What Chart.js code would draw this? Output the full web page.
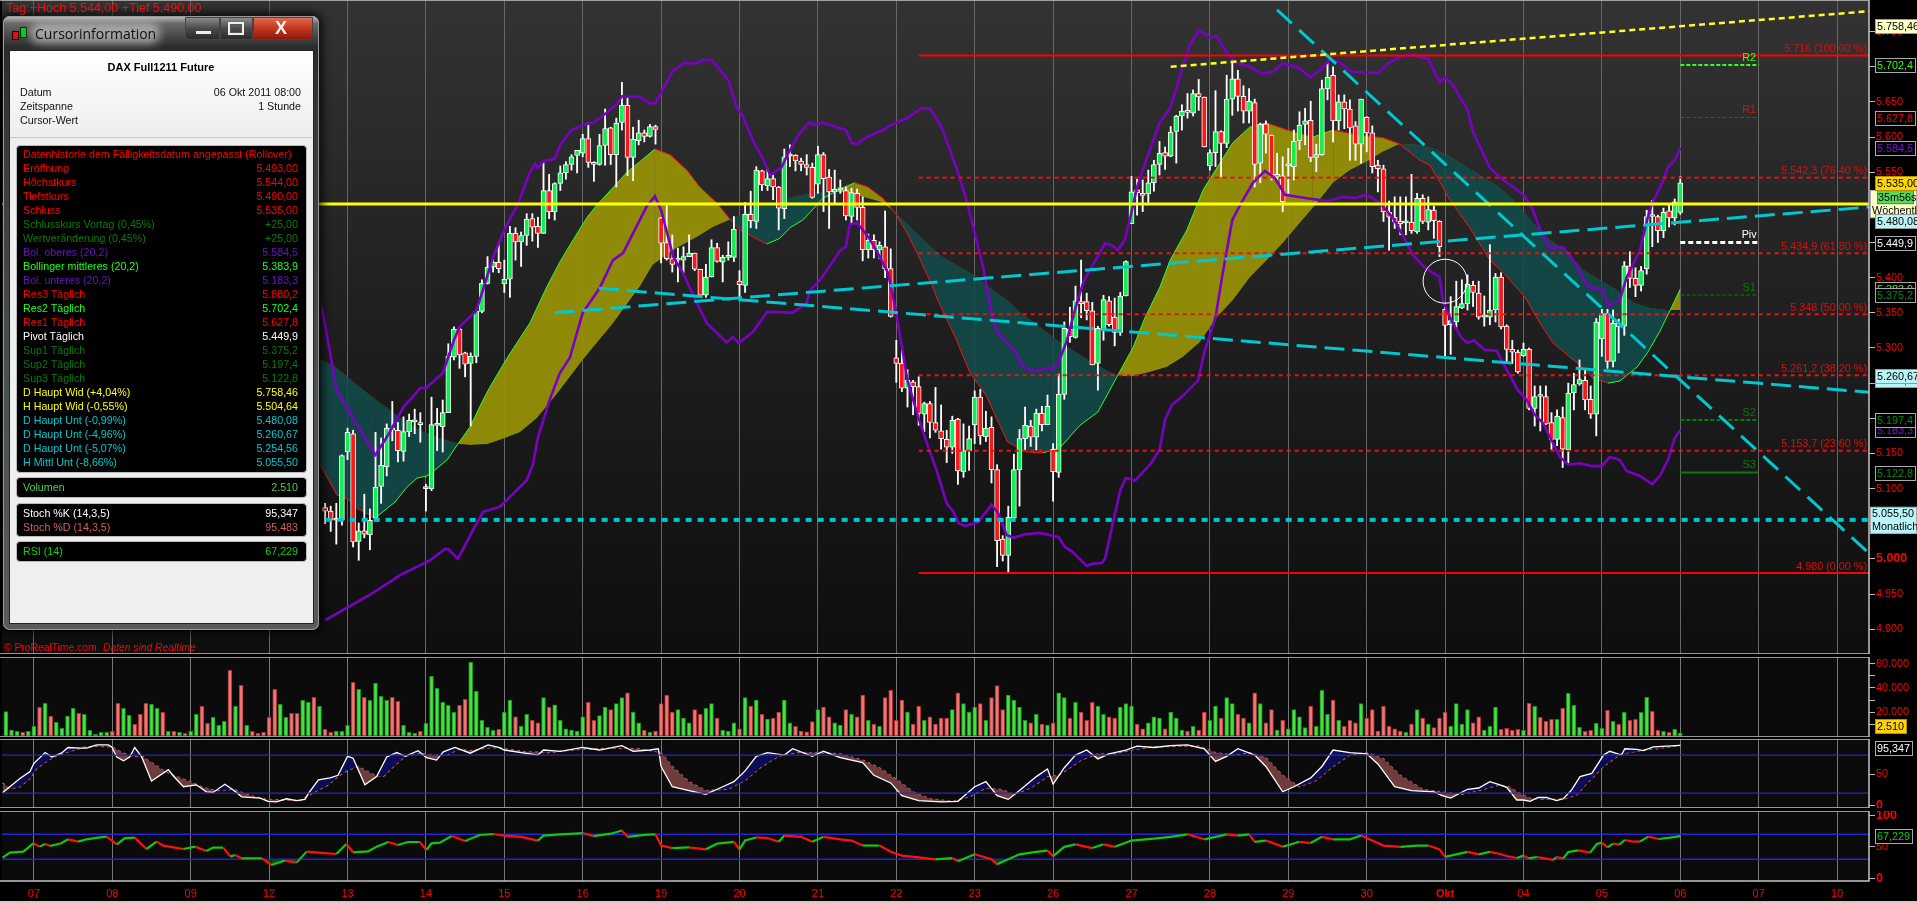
<!DOCTYPE html>
<html>
<head>
<meta charset="utf-8">
<title>DAX Full1211 Future</title>
<script src="https://cdn.jsdelivr.net/npm/chart.js@4/dist/chart.umd.js"></script>
<style>
  html, body { margin: 0; background: #000; width: 1917px; height: 903px; overflow: hidden; }
  body, div, span { font-family: "Liberation Sans", Arial, sans-serif; }
  canvas { position: absolute; left: 0; }
  .abs { position: absolute; white-space: nowrap; }
  #frame {
    left: 3px; top: 16px; width: 316px; height: 614px; border-radius: 7px;
    background: linear-gradient(180deg, #c4c4c4 0, #6a6a6a 1.2%, #2c2c2c 5%, #3a3a3a 20%, #4a524c 60%, #5a5a5a 100%);
    box-shadow: 0 0 10px 3px rgba(0,0,0,.85), inset 0 0 0 1px #999;
  }
  #client {
    left: 9px; top: 50px; width: 303px; height: 572px; border: 1px solid #222;
    background: linear-gradient(180deg, #fff 0, #eee 15%, #efefef 100%);
  }
  .blackbox { background: #000; border: 1px solid #bbb; border-radius: 4px; left: 16px; width: 289px; }
  .row { font-size: 10.7px; line-height: 14px; height: 14px; }
  .winbtn { top: 17px; height: 23px; border: 1px solid #444; box-sizing: border-box; }
</style>
</head>
<body>
<canvas id="mainChart" width="1917" height="654" style="top:0"></canvas>
<canvas id="volChart" width="1917" height="80" style="top:657px"></canvas>
<canvas id="stochChart" width="1917" height="69" style="top:739px"></canvas>
<canvas id="rsiChart" width="1917" height="92" style="top:811px"></canvas>
<div class="abs" style="left:0;top:901px;width:1917px;height:2px;background:#ccc"></div>
<div id="overlay"></div>
<script>
// day labels on the time axis, one session = 14 hourly bars
const dayBars = [0,14,28,42,56,70,84,98,112,126,140,154,168,182,196,210,224,238,252,266,280,294,308,322];
const dayLabels = ["07","08","09","12","13","14","15","16","19","20","21","22","23","26","27","28","29","30","Okt","04","05","06","07","10"];

// hourly candles, first one is bar 52 (everything before sits behind the info window)
const firstCandle = 52;
const opens = [5073,5068,5055,5055,5152,5178,5025,5040,5034,5058,5103,5131,5186,5183,5153,5181,5195,5194,
5100,5100,5190,5188,5208,5287,5327,5293,5278,5288,5352,5392,5415,5422,
5391,5398,5463,5451,5460,5484,5473,5463,5524,5494,5534,5549,5561,5574,
5577,5598,5564,5561,5588,5613,5575,5621,5645,5571,5595,5606,5601,5615,
5485,5450,5427,5425,5425,5430,5435,5412,5375,5401,5443,5422,5429,5429,
5395,5389,5490,5480,5552,5531,5541,5529,5498,5573,5574,5566,5561,5557,
5533,5575,5543,5522,5525,5524,5487,5520,5500,5440,5453,5440,5444,5413,
5286,5278,5243,5252,5245,5206,5221,5194,5182,5170,5159,5199,5124,5154,
5191,5230,5174,5187,5127,5028,5005,5058,5127,5171,5189,5173,5207,5191,
5156,5123,5234,5327,5315,5366,5366,5353,5278,5326,5367,5344,5322,5374,
5477,5525,5520,5519,5535,5561,5578,5573,5608,5630,5638,5634,5662,5657,
5559,5578,5608,5591,5654,5683,5658,5637,5649,5563,5619,5603,5543,5545,
5559,5558,5595,5618,5624,5571,5575,5669,5688,5623,5650,5640,5616,5590,
5628,5606,5560,5555,5493,5486,5480,5478,5479,5465,5513,5479,5496,5480,
5355,5333,5337,5357,5363,5389,5378,5344,5344,5354,5401,5331,5298,5294,
5289,5298,5214,5232,5231,5194,5170,5201,5155,5236,5249,5254,5227,5206,
5313,5349,5281,5335,5331,5417,5399,5389,5413,5488,5487,5467,5495,5485,
5493];
const closes = [5068,5055,5056,5147,5180,5024,5040,5035,5055,5102,5133,5186,5183,5154,5181,5197,5196,5191,
5101,5191,5191,5208,5289,5327,5290,5277,5288,5352,5392,5415,5422,5413,
5398,5463,5451,5460,5483,5472,5463,5524,5494,5534,5549,5561,5572,5581,
5598,5564,5561,5588,5612,5575,5620,5645,5571,5597,5606,5601,5615,5611,
5449,5427,5419,5426,5430,5435,5412,5375,5401,5443,5423,5429,5430,5469,
5390,5490,5481,5553,5532,5541,5529,5499,5572,5574,5566,5561,5557,5514,
5575,5541,5522,5526,5526,5488,5521,5500,5440,5453,5440,5446,5413,5345,
5278,5243,5254,5245,5207,5221,5194,5183,5171,5159,5197,5125,5154,5171,
5230,5175,5186,5127,5026,5005,5059,5127,5171,5190,5173,5207,5191,5217,
5124,5234,5328,5316,5367,5363,5353,5276,5328,5369,5333,5322,5374,5423,
5522,5521,5517,5535,5561,5577,5573,5607,5630,5637,5635,5662,5657,5586,
5578,5608,5591,5654,5683,5658,5637,5651,5561,5618,5604,5546,5547,5508,
5560,5594,5617,5623,5571,5575,5669,5685,5623,5650,5640,5613,5590,5654,
5606,5558,5555,5494,5486,5480,5477,5479,5467,5513,5480,5497,5481,5444,
5332,5339,5359,5363,5391,5379,5344,5347,5354,5401,5330,5298,5294,5266,
5298,5214,5231,5231,5192,5170,5203,5156,5236,5248,5255,5226,5206,5337,
5349,5281,5335,5330,5417,5399,5389,5410,5487,5487,5467,5493,5485,5508,
5535];
const highs = [5079,5075,5079,5148,5186,5183,5051,5092,5071,5180,5172,5192,5224,5194,5202,5206,5213,5208,
5106,5230,5214,5226,5306,5330,5328,5294,5293,5354,5397,5430,5427,5449,
5425,5473,5471,5465,5491,5491,5486,5563,5547,5535,5559,5565,5575,5581,
5604,5620,5565,5604,5640,5614,5627,5678,5657,5614,5624,5610,5618,5617,
5486,5506,5461,5442,5444,5461,5435,5412,5419,5454,5449,5432,5451,5487,
5410,5507,5523,5558,5553,5556,5546,5530,5583,5589,5575,5570,5575,5563,
5587,5578,5554,5553,5539,5529,5527,5526,5515,5462,5461,5451,5495,5441,
5311,5298,5269,5254,5259,5223,5224,5244,5219,5183,5203,5200,5192,5189,
5239,5241,5210,5202,5134,5033,5075,5149,5184,5216,5197,5213,5217,5233,
5164,5263,5337,5358,5388,5425,5378,5365,5331,5375,5373,5371,5379,5424,
5544,5540,5539,5553,5567,5594,5586,5615,5631,5646,5662,5667,5682,5657,
5582,5666,5609,5688,5707,5695,5673,5669,5654,5620,5623,5603,5577,5572,
5584,5610,5636,5641,5651,5590,5681,5705,5700,5660,5660,5653,5622,5654,
5629,5616,5567,5560,5509,5515,5515,5515,5547,5520,5518,5515,5502,5481,
5364,5373,5395,5397,5404,5395,5395,5374,5447,5406,5407,5333,5311,5297,
5307,5300,5246,5246,5246,5208,5212,5216,5250,5264,5283,5271,5246,5342,
5355,5355,5354,5341,5423,5437,5414,5416,5496,5510,5489,5499,5503,5512,
5544];
const lows = [5050,5039,5021,5048,5141,5017,4998,5030,5013,5058,5079,5118,5168,5138,5139,5174,5178,5166,
5068,5097,5154,5152,5208,5283,5271,5259,5189,5279,5350,5391,5408,5407,
5379,5372,5425,5416,5446,5452,5443,5463,5484,5482,5524,5540,5553,5549,
5572,5557,5537,5560,5560,5561,5529,5610,5545,5538,5589,5593,5600,5590,
5421,5425,5408,5394,5407,5430,5410,5372,5372,5401,5422,5394,5425,5423,
5373,5379,5471,5470,5524,5524,5511,5468,5484,5558,5552,5552,5546,5513,
5520,5494,5470,5506,5520,5482,5478,5482,5424,5428,5428,5427,5400,5344,
5251,5238,5216,5205,5190,5181,5172,5180,5156,5137,5150,5106,5116,5126,
5164,5163,5167,5108,4989,4997,4980,5055,5075,5155,5160,5155,5182,5191,
5082,5116,5227,5308,5314,5343,5340,5276,5240,5311,5331,5303,5318,5374,
5477,5489,5494,5507,5523,5546,5554,5572,5563,5610,5627,5630,5638,5586,
5553,5558,5544,5585,5631,5637,5620,5620,5529,5535,5577,5539,5539,5494,
5520,5539,5582,5589,5565,5551,5574,5653,5593,5610,5612,5567,5567,5563,
5579,5549,5522,5480,5439,5470,5461,5461,5463,5463,5477,5468,5456,5430,
5288,5291,5328,5356,5354,5359,5341,5331,5333,5337,5327,5278,5278,5264,
5288,5212,5189,5182,5191,5156,5161,5130,5136,5212,5247,5212,5200,5175,
5288,5271,5273,5293,5318,5386,5373,5381,5405,5444,5450,5457,5472,5475,
5490];

const bbUpperBars = [51.4,52.5,54,57,61,63,66,69,70,73,75,76,79,80,82,84,86.5,88.5,89.5,90,91,93,94,96,98,100,102.5,104,105,107,108,110,111,112,114,116,118.5,119.5,121,124,125.5,126.5,128.5,130,131.5,133.5,134.7,136.5,138.5,139.5,140.7,145,146,147,148.7,151.6,153,156,158.5,160,161.4,162.3,165,166.6,168,169.5,171,172,175,176.7,179,181,182,183,184.4,186,187.4,189.8,191.3,192.5,193.6,194.8,195.7,197,198,199.3,201,202.9,204.6,206.4,208,210,211.2,213,214.8,216.8,219.5,221.3,223,226,228,230,231.4,233,235.3,240,241.8,244,246,249,251,252,253.4,256,257,260,262.4,266,267.7,269,270.7,273,274.9,277.5,280,281.2,283.2,284.4,286.8,288.2,289,291,291.8,293,294];
const bbUpper = [5358,5311,5240,5200,5148,5173,5216,5243,5243,5264,5311,5330,5353,5378,5429,5468,5506,5549,5562,5556,5566,5569,5589,5610,5617,5621,5636,5646,5658,5657,5658,5648,5648,5663,5693,5705,5705,5710,5710,5681,5643,5631,5593,5572,5546,5557,5577,5603,5621,5617,5621,5610,5592,5590,5600,5610,5617,5627,5641,5641,5624,5610,5550,5508,5464,5415,5350,5323,5297,5273,5267,5272,5270,5280,5309,5357,5394,5428,5449,5446,5439,5454,5482,5529,5553,5582,5620,5641,5685,5731,5752,5742,5744,5720,5705,5701,5690,5693,5705,5698,5685,5698,5710,5707,5693,5691,5705,5714,5717,5711,5678,5685,5674,5639,5607,5556,5539,5518,5496,5468,5442,5444,5425,5387,5384,5360,5368,5400,5439,5486,5506,5539,5557,5567,5584.5];
const bbLowerBars = [52,60,65.4,70.7,73.4,74,75.7,78.4,80.2,83.2,88,89.1,90,92.1,93.9,95.7,98,101,103.4,105.2,107.3,109.4,110.9,112,114.2,115.9,118.4,120.2,123.7,124.8,125.9,128.4,130.9,133.2,135.5,138,138.6,140.4,142,144,145,145.7,147,149,150.7,152.5,153.8,154.6,156,157.9,159.7,161.2,163,164.2,165.1,166.3,168.6,171,172.2,173.7,174.9,177,179.6,183,184.1,185.3,188,188.9,190.7,191.3,192.5,194,195,196.6,199.3,201,202,203.2,205.2,207.9,209,211,212.3,214,215.7,217.7,219.8,221.6,223.4,227.3,231,233.8,235.9,238,240.4,242.7,245.2,246.3,248.4,251,251.6,252.5,253.4,255,256,257.1,259.1,261.2,263,265,266.6,268,269.5,272.5,274,276,278.2,280,281.4,283.2,284.4,286.8,289,290.4,291.8,293,294];
const bbLower = [4913,4949,4977,4998,5014,5014,5000,5041,5067,5074,5112,5134,5173,5226,5264,5286,5350,5385,5425,5435,5468,5501,5516,5496,5429,5407,5364,5335,5308,5316,5307,5323,5351,5351,5350,5364,5382,5397,5415,5439,5444,5476,5478,5458,5435,5407,5358,5321,5254,5202,5159,5126,5079,5067,5051,5047,5052,5077,5065,5034,5030,5035,5037,5031,5017,5011,4990,4993,4994,5001,5045,5098,5115,5111,5134,5155,5198,5219,5232,5254,5294,5343,5407,5482,5508,5535,5552,5542,5518,5513,5509,5515,5513,5518,5506,5485,5449,5432,5414,5401,5368,5350,5335,5314,5307,5311,5297,5296,5269,5240,5226,5205,5193,5145,5134,5136,5132,5132,5145,5141,5125,5118,5106,5119,5141,5172,5183.3];

// cloud: thin line coloured by its slope, and the unlined line it is filled against
const cloudLineBars = [51.1,54.1,56.1,57.7,60.9,64.5,66.6,68.4,70.2,72,73.8,75.5,77.9,80.2,81.4,84.6,88.6,91.6,93.9,96.3,98.8,100.5,103.4,105.9,108.2,110.9,113.6,116.6,118.9,122,124.3,126.1,128.4,130.9,133.2,135,137.3,138.6,140.9,144.5,146.6,148.9,151.6,153.8,155.9,157.9,160.5,161.4,164.5,167.1,170.2,172,173.9,177.3,180.2,183.2,186.8,190,193.4,196.3,198.4,201.1,202.9,205.9,208.8,211.8,214.1,217.1,220.2,223.8,228.4,232,236.3,240.9,243.9,247.5,249.3,251.6,252.9,256.4,260,262.3,266.3,268.9,271.3,275.5,278.4,281.1,283.2,286.3,288.2,290.3,292.4,294];
const cloudLine = [5134,5091,5085,5072,5058,5081,5102,5115,5118,5129,5141,5161,5188,5226,5244,5287,5336,5387,5422,5454,5486,5503,5528,5550,5565,5583,5575,5553,5529,5506,5483,5468,5458,5448,5456,5471,5482,5493,5513,5528,5535,5529,5513,5492,5464,5432,5387,5368,5316,5266,5230,5198,5166,5152,5151,5158,5190,5209,5259,5301,5343,5387,5425,5468,5525,5563,5592,5614,5620,5610,5600,5610,5603,5599,5590,5567,5560,5529,5510,5471,5425,5408,5372,5336,5307,5279,5257,5250,5253,5273,5294,5323,5357,5383.9];
const cloudBaseBars = [51.1,54.1,57,60,63,65.9,68.9,72,74.8,76.1,77.9,80.9,83.8,86.8,89.8,92.1,93.9,98,100.5,103.4,106.4,108.2,110.5,114.1,118.4,121.3,124.5,127,129.6,132,135.5,140.4,144.5,148.9,151.1,153.4,156.4,159.5,162.3,165.4,168.4,171.3,173.8,176.1,179.6,183.2,186.3,189.1,192.1,193.8,196.3,199.3,202.3,205.2,208.2,211.3,214.1,217.1,220.2,223,226.1,229.1,232,235,238,240.9,243.9,247,249.8,252.9,255.9,258.8,261.8,264.8,267.7,270.7,273.8,276.6,279.6,282.7,285.5,288.6,291.6,294];
const cloudBase = [5284,5272,5252,5233,5215,5198,5183,5173,5166,5163,5162,5163,5171,5180,5200,5222,5240,5283,5307,5335,5368,5387,5418,5439,5458,5472,5483,5492,5501,5503,5515,5522,5522,5513,5508,5496,5472,5449,5429,5415,5401,5382,5368,5351,5330,5308,5293,5279,5266,5260,5260,5266,5273,5287,5308,5344,5368,5400,5425,5449,5478,5506,5535,5553,5565,5579,5590,5589,5584,5572,5557,5543,5528,5506,5478,5454,5437,5411,5397,5382,5365,5357,5354,5354];

// drawn levels and trend lines
const fibValues = [5716,5542.3,5434.9,5348,5261.2,5153.7,4980];
const fibTexts = ["5.716 (100,00 %)","5.542,3 (76,40 %)","5.434,9 (61,80 %)","5.348 (50,00 %)","5.261,2 (38,20 %)","5.153,7 (23,60 %)","4.980 (0,00 %)"];
const pivotValues = [5702.4,5627.8,5449.9,5375.2,5197.4,5122.8];
const pivotNames = ["R2","R1","Piv","S1","S2","S3"];
const weeklyResistance = 5504.64;
const monthlySupport = 5055.5;
const trendResistBars = [203,327.7], trendResist = [5700,5779];
const trendRiseBars = [93,327.7], trendRise = [5350,5500.5];
const trendFallBars = [100.9,327.7], trendFall = [5385,5237];
const trendSteepBars = [222,327.7], trendSteep = [5781,5008];
const circleBar = [252], circleValue = [5395];

// volume, bar -5 up to bar 294
const firstVolume = -5;
const volumes = [20300,5000,3900,3000,3900,8000,23900,27200,16700,11400,6400,16700,23000,18900,18000,4700,1400,3000,3000,3900,
27200,23000,17200,9700,18000,27200,26400,23000,19700,3900,3900,3000,2200,3900,18000,24700,10600,15600,8900,12200,54700,24700,42200,8900,3900,2200,3000,
15600,38900,26400,15600,18900,18900,29700,28000,32200,24700,5600,3000,3900,3900,8900,44700,38900,32200,29700,43900,33100,29700,32200,28900,8900,3000,2200,3900,
10600,49700,39700,28000,25600,19700,25600,30600,61400,37200,13100,7200,4700,5600,
20000,30000,16000,8000,18000,13000,11000,32000,24000,26000,13000,6000,5000,4000,
16000,28000,13000,17000,24000,22000,27000,32000,36000,20000,11000,5000,3000,4000,
27000,34000,20000,22000,15000,11000,22000,18000,23000,27000,15000,5000,4000,11000,
6000,32000,25000,30000,18000,14000,15000,20000,30000,11000,8000,4000,3500,12000,
22000,24000,16000,11000,9000,22000,18000,16000,34000,13000,10000,8000,32000,38000,
13000,30000,20000,10000,25000,13000,16000,10000,15000,15000,22000,36000,27000,20000,
24000,27000,13000,32000,42000,22000,34000,30000,24000,13000,11000,18000,10000,9000,
11000,36000,32000,15000,28000,20000,13000,28000,25000,18000,16000,15000,24000,27000,
25000,10000,6000,11000,16000,15000,6000,20000,15000,5000,4000,8000,5000,20000,
13000,25000,15000,32000,27000,18000,15000,11000,36000,27000,11000,22000,5000,13000,
6000,22000,16000,7000,25000,8000,38000,18000,30000,13000,8000,13000,11000,27000,
15000,22000,4000,25000,8000,6000,4000,3000,10000,22000,15000,10000,7000,15000,
20000,8000,27000,10000,22000,11000,16000,5000,8000,24000,
5600,6400,4700,5600,4700,27200,24700,15600,12200,13900,13900,23000,35600,25600,7200,3900,4700,10600,6400,21400,12200,9700,19700,13100,13900,19700,32200,20600,4700,3900,3000,5600,2510];
// up/down flag of the volume bars that have no visible candle (bars -5 to 51)
const earlyVolumeUp = [1,1,1,0,1,1,0,1,0,1,1,1,1,0,1,1,1,1,1,0,0,1,1,0,0,0,1,1,0,1,0,1,0,1,1,0,0,1,1,1,0,1,0,1,0,0,0,0,0,1,1,0,0,1,1,0,1];

// stochastic %K / %D
const stochKBars = [-5.6,-2.5,-0.7,0,2,3.2,4.9,6.1,8.2,9.4,11.2,13.3,13.9,14.8,16,17.1,18,19.2,21,24,24.9,26.7,29,30.8,32,34.1,35.6,37.1,40.4,41.8,43.3,45.1,46.9,48.4,49,50.8,52.9,54.3,56,57,59.1,61.2,63,64.8,66.3,68.6,70.1,71.9,73.1,75.2,77.9,81.1,83,
84,87,90,91,94,98,101,105,107,110,111.5,112,114,117,120,123,125,127,129,131,134,135.5,139,141,144,148,150,153,155,158,162,165,168,170,172,174,176,179,181,182,184,186,188,190,192,195,197,200,203,206,209,211,213,215,218,220,223,225,228,230,232,235,238,240,243,246,250,251.5,253,256,258,260,
261.8,263,264.8,266,267.2,268.6,270.1,271.9,273.1,274.6,276.1,278.2,280.3,281.4,283.5,284.1,286.2,287.4,289.2,294];
const stochK = [20.5,43,54,67,84,77,83,92,91,91,96,96,93,77,71,77,92,78,39,57,47,30,33,22,21,34,25,14,12,7,6,11,8,10,19,41,44,48,78,75,33,46,77,84,78,87,76,72,85,92,83,96,92,
88,84,80,88,86,92,88,95,86,88,90,62,30,24,18,30,38,55,78,84,80,90,78,86,76,68,48,36,16,8,6,7,30,38,16,10,24,46,58,34,60,80,88,74,82,88,94,92,95,96,90,70,78,90,80,62,22,30,44,62,88,84,82,66,30,24,22,16,12,26,28,38,
33,29,9,9,7,13,13,8,11,25,46,51,80,86,80,90,89,87,93,95.35];
const stochDBars = [-5.6,-4.3,-2.5,-0.7,0.5,2.6,4.3,6.1,8.8,11.2,13.9,16,17.7,19.5,23.1,25.2,27.9,30.2,32.6,35.6,38.3,41.5,45.1,47.5,50.2,52.6,54.3,56,57.9,60.9,62.4,64.5,66.3,68.9,71.3,73.7,75.8,77.9,80.8,83,
84,88,92,96,100,104,108,112,114,117,120,124,127,130,133,136,140,144,148,151,154,157,160,164,167,170,173,175,178,181,183,185,187,190,193,196,200,204,208,211,214,217,220,223,226,229,232,235,238,241,244,248,252,255,258,
261.8,263.6,265.4,267.2,269.5,271.9,273.4,275.5,277.3,279.1,280.3,282.3,283.5,285.6,287.4,289.8,294];
const stochD = [36,27,30,43,59,72,80,85,92,94,93,83,78,77,56,47,38,29,24,26,17,10,9,8,22,33,46,56,62,48,46,64,78,83,80,80,89,87,91,92,
90,85,84,88,90,91,90,84,62,38,24,26,40,62,78,84,84,82,72,60,42,22,11,7,14,28,25,18,28,46,48,60,72,82,82,88,93,94,94,84,80,84,76,48,30,40,62,80,84,74,48,26,21,18,24,
33,29,19,12,10,10,11,17,35,51,62,75,82,85,88,90,95.48];

// RSI
const rsiBars = [-5.6,-4.3,-1.9,-0.1,1,2,2.9,4.9,6.1,7.9,9.4,11.8,13,14.8,16.2,18,20.1,21.9,23.1,24.9,26.7,28.8,30.8,32,33.8,35.1,35.9,37.1,40.7,42.4,43.3,44.8,46.9,48.7,50.8,54,55.8,57,59.7,61.2,63.3,65,66.8,68.9,70.1,71,72.5,74.6,77,79.6,82,83,
84,87,90,91,94,98,100,103,105,106,109,111,112,114,117,120,122,125,126,127,129,131,133,134,137,139,141,144,146,148,151,153,155,158,161,164,165,168,171,172,174,176,179,181,182,184,186,189,191,193,196,200,203,206,209,211,213,215,217,218,220,223,226,228,230,232,235,237,239,241,244,247,249,251,252,254,256,258,260,
261.8,263,264.8,266,266.9,268.4,270.1,271.3,271.9,273.1,274,275.8,277.9,279.1,280,281,282,283.1,284.1,285.3,286.8,288.3,290.1,292.2,294];
const rsiValues = [32.7,40.7,42.3,55.6,50.3,54.5,51.3,55.6,62,58.3,62,65.2,66.3,54,63.6,64.7,46.5,58.3,51.9,49.2,46.5,50.3,43.3,48.7,48.7,34.3,36.9,31.6,31.6,20.9,23.6,27.9,24.7,42.3,40.7,38.5,54.5,41.2,42.8,50.3,57.7,52.9,57.7,57.7,44.9,55.6,56.7,67.3,59.3,68.9,70.5,68.9,
68,66,60,68,70,72,67,71,76,66,69,70,52,48,49,46,55,58,46,60,65,64,58,68,66,58,66,62,60,52,52,42,36,33,30,32,27,38,30,22,30,38,42,44,35,50,54,48,54,50,60,63,66,70,62,66,70,68,70,58,60,50,58,56,66,62,62,68,60,52,50,52,52,46,34,38,42,38,42,
38.5,35.3,32.1,35.9,31.6,33.7,31.1,28.9,33.7,31.6,41.7,44.4,40.7,54.5,56.7,49.2,55.1,53.5,60.9,58.8,58.3,66.3,62.5,64.7,67.23];

// axis ticks
const mainTicks = [4900,4950,5000,5050,5100,5150,5200,5250,5300,5350,5400,5450,5500,5550,5600,5650,5700,5750];
const volTicks = [10000,20000,30000,40000,50000,60000];
const volLabelled = [20000,40000,60000];
const stochTicks = [0,50];
const stochLevels = [80,20];
const rsiTicks = [0,50,100];
const rsiLevels = [70,30];
const boldTicks = [5000,0,100];

// value boxes on the right hand axis, later ones cover earlier ones
const flagValues = [5758.46,5702.4,5627.8,5584.5,5504.64,5480.08,5535,5449.9,5383.9,5375.2,5254.56,5260.67,5183.3,5197.4,5122.8,5055.5];
const flagTexts = ["5.758,46","5.702,4","5.627,8","5.584,5","35m56s","5.480,08","5.535,00","5.449,9","5.383,9","5.375,2","5.254,56","5.260,67","5.183,3","5.197,4","5.122,8","5.055,50"];
const flagKinds = ["paleYellow","green","red","purple","weekly","paleCyan","gold","white","green","darkGreen","paleCyan","paleCyan","purple","darkGreen","darkGreen","monthly"];

// info window
const infoLabels = ["Datenhistorie dem Fälligkeitsdatum angepasst (Rollover)","Eröffnung","Höchstkurs","Tiefstkurs","Schluss","Schlusskurs Vortag (0,45%)","Wertveränderung (0,45%)","Bol. oberes (20,2)","Bollinger mittleres (20,2)","Bol. unteres (20,2)","Res3 Täglich","Res2 Täglich","Res1 Täglich","Pivot Täglich","Sup1 Täglich","Sup2 Täglich","Sup3 Täglich","D Haupt Wid (+4,04%)","H Haupt Wid (-0,55%)","D Haupt Unt (-0,99%)","D Haupt Unt (-4,96%)","D Haupt Unt (-5,07%)","H Mittl Unt (-8,66%)"];
const infoValues = ["","5.493,00","5.544,00","5.490,00","5.535,00","+25,00","+25,00","5.584,5","5.383,9","5.183,3","5.880,2","5.702,4","5.627,8","5.449,9","5.375,2","5.197,4","5.122,8","5.758,46","5.504,64","5.480,08","5.260,67","5.254,56","5.055,50"];
const infoColors = ["#f00","#f00","#f00","#f00","#f00","#0a7a0a","#0a7a0a","#6a10c0","#20ff20","#6a10c0","#f00","#20ff20","#f00","#fff","#0a7a0a","#0a7a0a","#0a7a0a","#ff0","#ff0","#00c8d0","#00c8d0","#00c8d0","#00c8d0"];

Chart.defaults.font.family = '"Liberation Sans", Arial, sans-serif';
Chart.defaults.font.size = 11;
Chart.defaults.animation = false;

const RED = "#ff1515", GREEN = "#0cf050", CYAN = "#00c8d0", PURPLE = "#7a00c4", DARKGREEN = "#0a7a0a", BRIGHT = "#30ff20";
const xMin = -5.7, xMax = 327.7;

function xy(bars, values) {
  return bars.map((b, i) => ({ x: b, y: values[i] }));
}
function line(data, color, width, dash, order) {
  return { type: "line", data, borderColor: color, borderWidth: width, borderDash: dash || [], pointRadius: 0, tension: 0, order };
}
function level(value, from, to, color, width, dash, order) {
  return line(xy([from, to], [value, value]), color, width, dash, order);
}
const germanNumber = v => String(v).replace(/(\d)(\d{3})$/, "$1.$2");

function xScale(gridColor, withLabels) {
  return {
    type: "linear", min: xMin, max: xMax, offset: false,
    grid: { color: gridColor, lineWidth: 1, drawTicks: false, offset: false },
    border: { display: false },
    afterBuildTicks: s => { s.ticks = dayBars.map(v => ({ value: v })); },
    afterFit: s => { s.height = withLabels ? 22 : 0; s.paddingLeft = 0; s.paddingRight = 0; },
    ticks: {
      display: withLabels, autoSkip: false, maxRotation: 0, color: "#f00", padding: 6,
      callback: v => dayLabels[dayBars.indexOf(v)],
      font: c => ({ size: 11, weight: c.tick && c.tick.value === 252 ? "bold" : "normal" })
    }
  };
}
function yScale(min, max, tickValues, labelFn) {
  return {
    position: "right", min, max,
    grid: { drawOnChartArea: false, drawTicks: true, tickLength: 6, tickColor: "#bbb" },
    border: { display: false },
    afterBuildTicks: s => { s.ticks = tickValues.map(v => ({ value: v })); },
    afterFit: s => { s.width = 48; s.paddingTop = 0; s.paddingBottom = 0; },
    ticks: {
      autoSkip: false, color: "#f00", padding: 1, callback: labelFn,
      font: c => boldTicks.includes(c.tick && c.tick.value) ? { size: 12.5, weight: "bold" } : { size: 10.8 }
    }
  };
}

function roundBox(ctx, x, y, w, h, bg, border) {
  ctx.fillStyle = bg;
  ctx.fillRect(x, y, w, h);
  ctx.strokeStyle = border;
  ctx.lineWidth = 1;
  ctx.strokeRect(x + 0.5, y + 0.5, w - 1, h - 1);
}
const flagStyles = {
  paleYellow: { bg: "#ffffc8", fg: "#000", border: "#999" },
  paleCyan: { bg: "#b8f4f8", fg: "#000", border: "#999" },
  gold: { bg: "#ffd400", fg: "#000", border: "#b09000" },
  green: { bg: "#000", fg: "#30ff20", border: "#aaa" },
  darkGreen: { bg: "#000", fg: "#0a8a0a", border: "#aaa" },
  red: { bg: "#000", fg: "#f00", border: "#aaa" },
  purple: { bg: "#000", fg: "#7a10e0", border: "#aaa" },
  white: { bg: "#000", fg: "#fff", border: "#aaa" },
  rsi: { bg: "#000", fg: "#18c818", border: "#aaa" }
};
function drawFlag(ctx, y, text, kind, rightLimit) {
  const st = flagStyles[kind];
  const w = Math.min(ctx.measureText(text).width + 5, rightLimit || 60);
  roundBox(ctx, 1875, Math.round(y - 7), w, 15, st.bg, st.border);
  ctx.fillStyle = st.fg;
  ctx.textAlign = "left";
  ctx.textBaseline = "middle";
  ctx.fillText(text, 1877, Math.round(y) + 1);
}

// background and outer line of each panel
const panelFrame = {
  id: "panelFrame",
  beforeDraw(chart, args, opts) {
    const { ctx, chartArea: a } = chart;
    let fill = "#0b0b0b";
    if (opts.gradient) {
      fill = ctx.createLinearGradient(0, a.top, 0, a.bottom);
      fill.addColorStop(0, "#333333");
      fill.addColorStop(0.5, "#1f1f1f");
      fill.addColorStop(1, "#0e0e0e");
    }
    ctx.fillStyle = fill;
    ctx.fillRect(a.left, a.top, a.right - a.left, a.bottom - a.top);
  },
  afterDraw(chart) {
    const { ctx, chartArea: a } = chart;
    ctx.strokeStyle = "#c4c4c4";
    ctx.lineWidth = 1.5;
    ctx.strokeRect(a.left - 3, a.top, a.right - a.left + 3, a.bottom - a.top);
  }
};

// fibonacci / pivot captions and the boxes on the axis of the price panel
const priceLabels = {
  id: "priceLabels",
  afterDraw(chart) {
    const { ctx, scales: { x, y } } = chart;
    ctx.save();
    ctx.font = '10.8px "Liberation Sans", Arial, sans-serif';
    ctx.textBaseline = "bottom";
    ctx.textAlign = "right";
    ctx.fillStyle = "#d81010";
    fibValues.forEach((v, i) => ctx.fillText(fibTexts[i], x.right - 2, y.getPixelForValue(v) - 1));
    ctx.textAlign = "center";
    const nameColors = [BRIGHT, "#e01010", "#fff", DARKGREEN, DARKGREEN, DARKGREEN];
    pivotValues.forEach((v, i) => {
      ctx.fillStyle = nameColors[i];
      ctx.fillText(pivotNames[i], x.getPixelForValue(306.3), y.getPixelForValue(v) - 2);
    });
    flagValues.forEach((v, i) => {
      const py = y.getPixelForValue(v), kind = flagKinds[i];
      if (kind === "weekly") {
        roundBox(ctx, 1870, py - 14, 47, 28, "#ffffc8", "#aaa");
        roundBox(ctx, 1877, py - 14, 37, 14, "#58d858", "#3a9a3a");
        ctx.fillStyle = "#000";
        ctx.textAlign = "left";
        ctx.textBaseline = "middle";
        ctx.fillText(flagTexts[i], 1878, py - 6);
        ctx.fillText("Wöchentlich", 1872, py + 7);
      } else if (kind === "monthly") {
        roundBox(ctx, 1870, py - 13, 47, 27, "#b8f4f8", "#aaa");
        ctx.fillStyle = "#000";
        ctx.textAlign = "left";
        ctx.textBaseline = "middle";
        ctx.fillText(flagTexts[i], 1872, py - 6);
        ctx.fillText("Monatlich", 1872, py + 7);
      } else {
        drawFlag(ctx, py, flagTexts[i], kind);
      }
    });
    ctx.restore();
  }
};
function sideFlag(id, value, text, kind) {
  return {
    id,
    afterDraw(chart) {
      const { ctx, chartArea: a, scales: { y } } = chart;
      ctx.save();
      ctx.font = '10.8px "Liberation Sans", Arial, sans-serif';
      const py = Math.min(Math.max(y.getPixelForValue(value), a.top + 9), a.bottom - 11);
      drawFlag(ctx, py, text, kind);
      ctx.restore();
    }
  };
}
const baseOptions = (x, y, gradient) => ({
  responsive: false, events: [],
  layout: { padding: { left: 2, right: 0, top: 0, bottom: 0 }, autoPadding: false },
  plugins: { legend: { display: false }, tooltip: { enabled: false }, panelFrame: { gradient } },
  scales: { x, y }
});
const slopeColor = (up, down) => c => c.p1.parsed.y >= c.p0.parsed.y ? up : down;

// price panel
const candleBars = opens.map((_, i) => firstCandle + i);
const isUp = opens.map((o, i) => closes[i] >= o);
const priceSets = [];
priceSets.push(Object.assign(line(xy(cloudLineBars, cloudLine), BRIGHT, 1, null, 90), {
  segment: { borderColor: slopeColor(BRIGHT, "#ff1010") },
  fill: { target: "+1", above: "rgba(150,145,6,0.94)", below: "rgba(18,76,74,0.86)" }
}));
priceSets.push(line(xy(cloudBaseBars, cloudBase), "rgba(0,0,0,0)", 0, null, 91));
priceSets.push({ type: "bar", grouped: false, order: 70, barThickness: 1.2, backgroundColor: "#fff",
  data: candleBars.map((b, i) => ({ x: b, y: [lows[i], highs[i]] })) });
priceSets.push({ type: "bar", grouped: false, order: 60, barThickness: 5, minBarLength: 2,
  borderWidth: 1, borderColor: "#fff", borderSkipped: false,
  backgroundColor: isUp.map(u => u ? GREEN : RED),
  data: candleBars.map((b, i) => ({ x: b, y: [opens[i], closes[i]] })) });
priceSets.push(line(xy(bbUpperBars, bbUpper), PURPLE, 2.6, null, 30));
priceSets.push(line(xy(bbLowerBars, bbLower), PURPLE, 2.6, null, 30));
fibValues.forEach(v => {
  const solid = v === 5716 || v === 4980;
  priceSets.push(level(v, 158, xMax, solid ? "#ff0000" : "#f01010", 2, solid ? [] : [4, 4], 20));
});
const pivotStyles = [[BRIGHT, 2, [4, 2]], ["#e01010", 1, [4, 2]], ["#fff", 3, [5, 3]], [DARKGREEN, 1, [4, 2]], [DARKGREEN, 2, [4, 2]], [DARKGREEN, 2, []]];
pivotValues.forEach((v, i) => priceSets.push(level(v, 294, 308, pivotStyles[i][0], pivotStyles[i][1], pivotStyles[i][2], 15)));
priceSets.push(line(xy(trendRiseBars, trendRise), CYAN, 3, [20, 8], 10));
priceSets.push(line(xy(trendFallBars, trendFall), CYAN, 3, [20, 8], 10));
priceSets.push(line(xy(trendSteepBars, trendSteep), CYAN, 3, [20, 10], 10));
priceSets.push(level(monthlySupport, 52.1, xMax, CYAN, 4, [6, 6], 10));
priceSets.push(line(xy(trendResistBars, trendResist), "#ffff20", 2.5, [6, 4], 8));
priceSets.push(level(weeklyResistance, xMin, xMax, "#ffff00", 3, [], 5));
priceSets.push({ type: "scatter", order: 1, data: xy(circleBar, circleValue), pointRadius: 22, pointBorderColor: "#fff",
  pointBorderWidth: 1, pointBackgroundColor: "rgba(0,0,0,0)" });

new Chart(document.getElementById("mainChart"), {
  type: "bar",
  data: { datasets: priceSets },
  options: baseOptions(xScale("#666", false), yScale(4864.7, 5795, mainTicks, v => germanNumber(v)), true),
  plugins: [panelFrame, priceLabels]
});

// volume panel
const volBars = volumes.map((_, i) => firstVolume + i);
const volUp = volBars.map((b, i) => b < firstCandle ? earlyVolumeUp[i] === 1 : isUp[b - firstCandle]);
new Chart(document.getElementById("volChart"), {
  type: "bar",
  data: { datasets: [{ grouped: false, barThickness: 4, borderWidth: 1, borderSkipped: false,
    backgroundColor: volUp.map(u => u ? "#44e044" : "#f07575"),
    borderColor: volUp.map(u => u ? "#1c8c1c" : "#a83030"),
    data: xy(volBars, volumes) }] },
  options: baseOptions(xScale("#777", false), yScale(-833, 65833, volTicks, v => volLabelled.includes(v) ? germanNumber(v) : ""), false),
  plugins: [panelFrame, sideFlag("volFlag", 2510, "2.510", "gold")]
});

// stochastic panel
new Chart(document.getElementById("stochChart"), {
  type: "line",
  data: { datasets: [
    Object.assign(line(xy(stochKBars, stochK), "#fff", 1.3, null, 2), { fill: { target: "+1", above: "#0c0c55", below: "#6e3c3a" } }),
    line(xy(stochDBars, stochD), "#e86a6a", 1.3, [3, 3], 3),
    ...stochLevels.map(v => level(v, xMin, xMax, "#2a2ab8", 1.3, [], 1))
  ] },
  options: baseOptions(xScale("#777", false), yScale(-3.6, 105.4, stochTicks, v => String(v)), false),
  plugins: [panelFrame, sideFlag("stochFlag", 95.347, "95,347", "white")]
});

// RSI panel, also carries the date labels
new Chart(document.getElementById("rsiChart"), {
  type: "line",
  data: { datasets: [
    Object.assign(line(xy(rsiBars, rsiValues), "#10c810", 2.2, null, 1), {
      segment: { borderColor: slopeColor("#10c810", "#ff1010") },
      fill: { target: { value: 30 }, above: "rgba(0,0,0,0)", below: "#0a4a14" }
    }),
    ...rsiLevels.map(v => level(v, xMin, xMax, "#2424d8", 1.4, [], 2))
  ] },
  options: baseOptions(xScale("#777", true), yScale(-4.7, 107.3, rsiTicks, v => String(v)), false),
  plugins: [panelFrame, sideFlag("rsiFlag", 67.229, "67,229", "rsi")]
});

// info window and captions as plain page text
const overlay = document.getElementById("overlay");
function put(cls, style, text) {
  const el = document.createElement("div");
  el.className = "abs " + cls;
  el.style.cssText = style;
  if (text !== undefined) el.textContent = text;
  overlay.appendChild(el);
  return el;
}
put("", "", undefined).id = "frame";
put("", "left:6px;top:1px;font-size:12.5px;color:#f01010", "Tag:+Hoch 5.544,00 +Tief 5.490,00");
put("", "left:4px;top:642px;font-size:10.3px;color:#f00", "© ProRealTime.com");
put("", "left:103px;top:642px;font-size:10.3px;color:#f00;font-style:italic", "Daten sind Realtime");
put("", "left:30px;top:22px;width:130px;height:22px;border-radius:10px;background:rgba(190,190,190,.75);filter:blur(4px)");
put("", "left:12px;top:31px;width:5px;height:7px;background:#e01010;border:1px solid #300");
put("", "left:20px;top:27px;width:5px;height:9px;background:#10c030;border:1px solid #030");
put("", "left:35px;top:24px;font:14px 'Open Sans',sans-serif;color:#101010", "Cursorinformation");
put("winbtn", "left:185px;width:35px;background:linear-gradient(#8a8a8a,#4a4a4a 50%,#2a2a2a);border-radius:0 0 0 4px");
put("", "left:196px;top:31px;width:15px;height:3px;background:#eee");
put("winbtn", "left:220px;width:33px;background:linear-gradient(#8a8a8a,#4a4a4a 50%,#2a2a2a)");
put("", "left:228px;top:22px;width:12px;height:9px;border:2px solid #eee;box-shadow:inset 0 0 0 1px #555");
put("winbtn", "left:253px;width:60px;background:linear-gradient(#e06a50,#c83a20 45%,#901808);border-radius:0 0 4px 0");
put("", "left:275px;top:18px;font:bold 18px 'Liberation Sans';color:#f4f4f4", "X");
put("", "", undefined).id = "client";
put("", "left:10px;top:137px;width:302px;height:1px;background:#c8c8c8");
put("", "left:10px;width:302px;top:61px;text-align:center;font:bold 11px 'Liberation Sans';color:#000", "DAX Full1211 Future");
const headLabels = ["Datum","Zeitspanne","Cursor-Wert"], headValues = ["06 Okt 2011 08:00","1 Stunde",""];
headLabels.forEach((t, i) => {
  put("row", `left:20px;top:${85 + i * 14}px;color:#111`, t);
  put("row", `right:${1917 - 301}px;top:${85 + i * 14}px;color:#111`, headValues[i]);
});
put("blackbox", "position:absolute;top:145px;height:326px");
infoLabels.forEach((t, i) => {
  const top = 147 + i * 14;
  put("row", `left:23px;top:${top}px;color:${infoColors[i]}`, t);
  put("row", `right:${1917 - 298}px;top:${top}px;color:${infoColors[i]}`, infoValues[i]);
});
function infoBox(top, height, labels, values, colors) {
  put("blackbox", `position:absolute;top:${top}px;height:${height}px`);
  labels.forEach((t, i) => {
    const y = top + 3 + i * 14;
    put("row", `left:23px;top:${y}px;color:${colors[i]}`, t);
    put("row", `right:${1917 - 298}px;top:${y}px;color:${colors[i]}`, values[i]);
  });
}
infoBox(477, 19, ["Volumen"], ["2.510"], ["#50c850"]);
infoBox(503, 32, ["Stoch %K (14,3,5)", "Stoch %D (14,3,5)"], ["95,347", "95,483"], ["#fff", "#d06060"]);
infoBox(541, 19, ["RSI (14)"], ["67,229"], ["#10d010"]);
</script>
</body>
</html>
